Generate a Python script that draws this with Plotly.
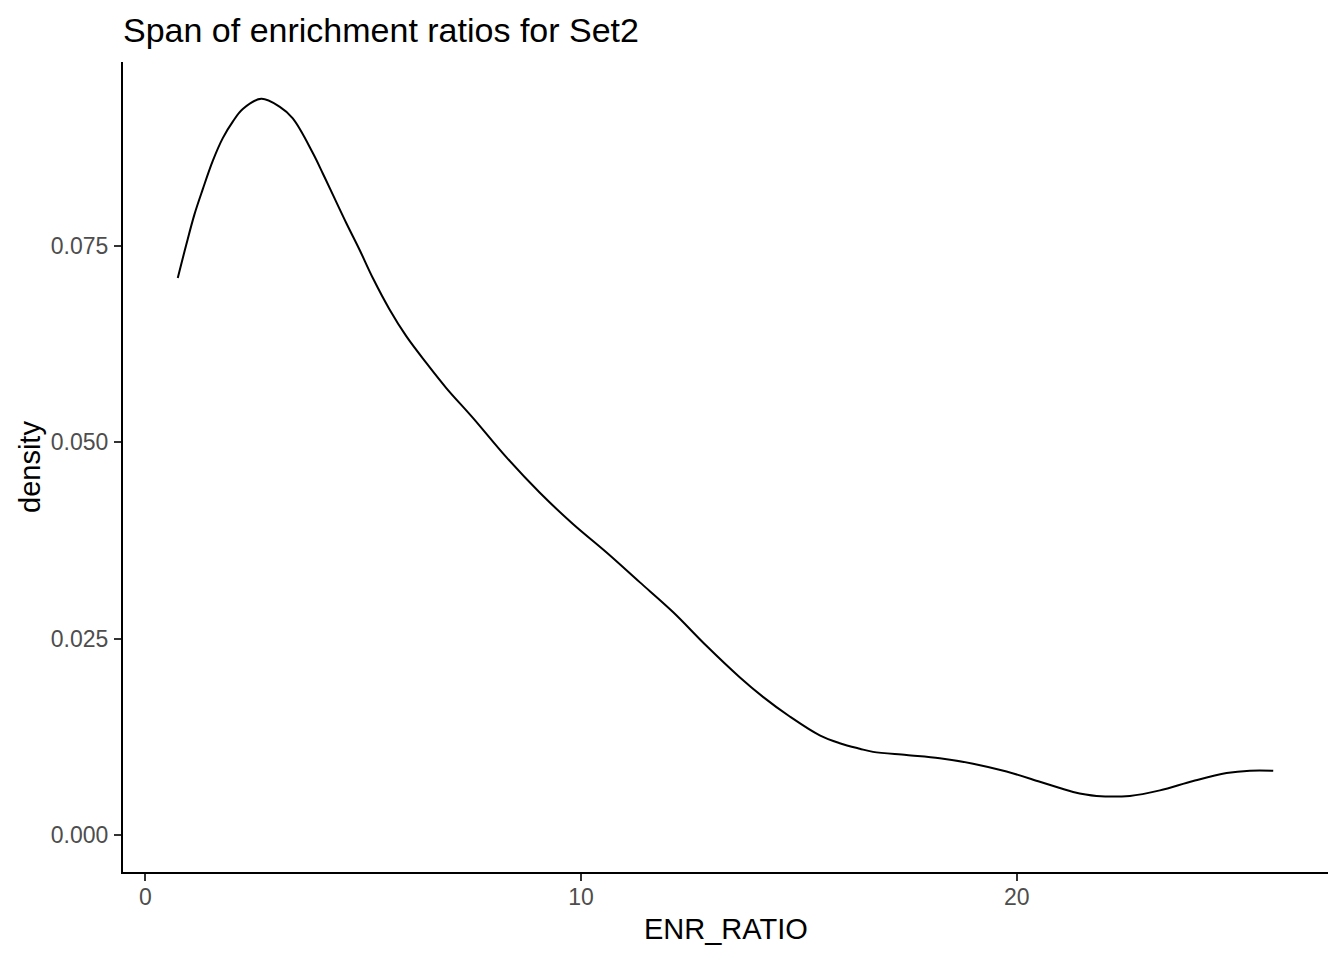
import plotly.graph_objects as go

# Estimated density curve
enr_ratio = [0.742, 0.935, 1.125, 1.316, 1.545, 1.775, 2.005, 2.234, 2.657, 3.077,
             3.382, 3.842, 4.071, 4.301, 4.609, 4.914, 5.219, 5.603,
             5.986, 6.446, 6.905, 7.516, 8.282, 9.047, 9.812, 10.578, 11.343, 12.108,
             12.875, 13.639, 14.174, 14.788, 15.477, 15.936, 16.395, 16.700, 17.467, 18.232,
             18.997, 19.764, 20.528, 20.987, 21.293, 21.830, 22.595, 23.284, 24.049, 24.815,
             25.350, 25.885]
density = [0.0709, 0.0751, 0.0790, 0.0822, 0.0858, 0.0887, 0.0908, 0.0924, 0.0937, 0.0927,
           0.0912, 0.0868, 0.0842, 0.0815, 0.0779, 0.0745, 0.0709, 0.0669,
           0.0635, 0.0601, 0.0569, 0.0531, 0.0481, 0.0436, 0.0396, 0.0360, 0.0322, 0.0284,
           0.0241, 0.0201, 0.0176, 0.0151, 0.0127, 0.0117, 0.0110, 0.0106, 0.0102, 0.0098,
           0.0091, 0.0081, 0.0068, 0.0060, 0.0055, 0.0050, 0.0050, 0.0057, 0.0069, 0.0079,
           0.0082, 0.0082]

x_ticks = [0, 10, 20]
x_tick_labels = ["0", "10", "20"]
y_ticks = [0.0, 0.025, 0.050, 0.075]
y_tick_labels = ["0.000", "0.025", "0.050", "0.075"]

title_text = "Span of enrichment ratios for Set2"
x_title = "ENR_RATIO"
y_title = "density"

FONT = "Liberation Sans, Arial, sans-serif"

# The page body adds an 8px offset; size the figure to compensate.
OFF = 8
W, H = 1344 - OFF, 960 - OFF
PL, PR, PT, PB = 123, 1328, 62, 872  # target panel edges in page pixels

fig = go.Figure()
fig.add_trace(go.Scatter(
    x=enr_ratio, y=density, mode="lines",
    line=dict(color="black", width=2, shape="spline", smoothing=1.0),
    showlegend=False, hoverinfo="skip",
))

# ggplot-like 5% expansion
xmin, xmax = min(enr_ratio), max(enr_ratio)
xpad = (xmax - xmin) * 0.05
ymax = max(density)
ypad = ymax * 0.05

pw, ph = PR - PL, PB - PT

fig.update_layout(
    width=W, height=H,
    margin=dict(l=PL - OFF, r=1344 - PR, t=PT - OFF, b=960 - PB, pad=0, autoexpand=False),
    paper_bgcolor="white", plot_bgcolor="white",
    font=dict(family=FONT, color="black"),
    title=dict(text=title_text, font=dict(size=34, color="black", family=FONT),
               xref="paper", x=0, xanchor="left",
               yref="container", y=1 - (30 - OFF) / H, yanchor="middle"),
    xaxis=dict(range=[xmin - xpad, xmax + xpad], tickvals=x_ticks, ticktext=x_tick_labels,
               showgrid=False, zeroline=False, showline=True, linecolor="black", linewidth=2,
               ticks="outside", ticklen=7, tickwidth=2, tickcolor="#333333",
               tickfont=dict(size=23, color="#4D4D4D", family=FONT),
               ticklabelstandoff=-4),
    yaxis=dict(range=[-ypad, ymax + ypad], tickvals=y_ticks, ticktext=y_tick_labels,
               showgrid=False, zeroline=False, showline=True, linecolor="black", linewidth=2,
               ticks="outside", ticklen=7, tickwidth=2, tickcolor="#333333",
               tickfont=dict(size=23, color="#4D4D4D", family=FONT),
               ticklabelstandoff=1),
    annotations=[
        dict(text=x_title, xref="paper", yref="paper", x=0.5, y=-(929 - PB) / ph,
             xanchor="center", yanchor="middle", showarrow=False,
             font=dict(size=29, color="black", family=FONT)),
        dict(text=y_title, xref="paper", yref="paper", x=-(PL - 30) / pw, y=0.5,
             xanchor="center", yanchor="middle", showarrow=False, textangle=-90,
             font=dict(size=29, color="black", family=FONT)),
    ],
)

fig.write_html("out.html")
